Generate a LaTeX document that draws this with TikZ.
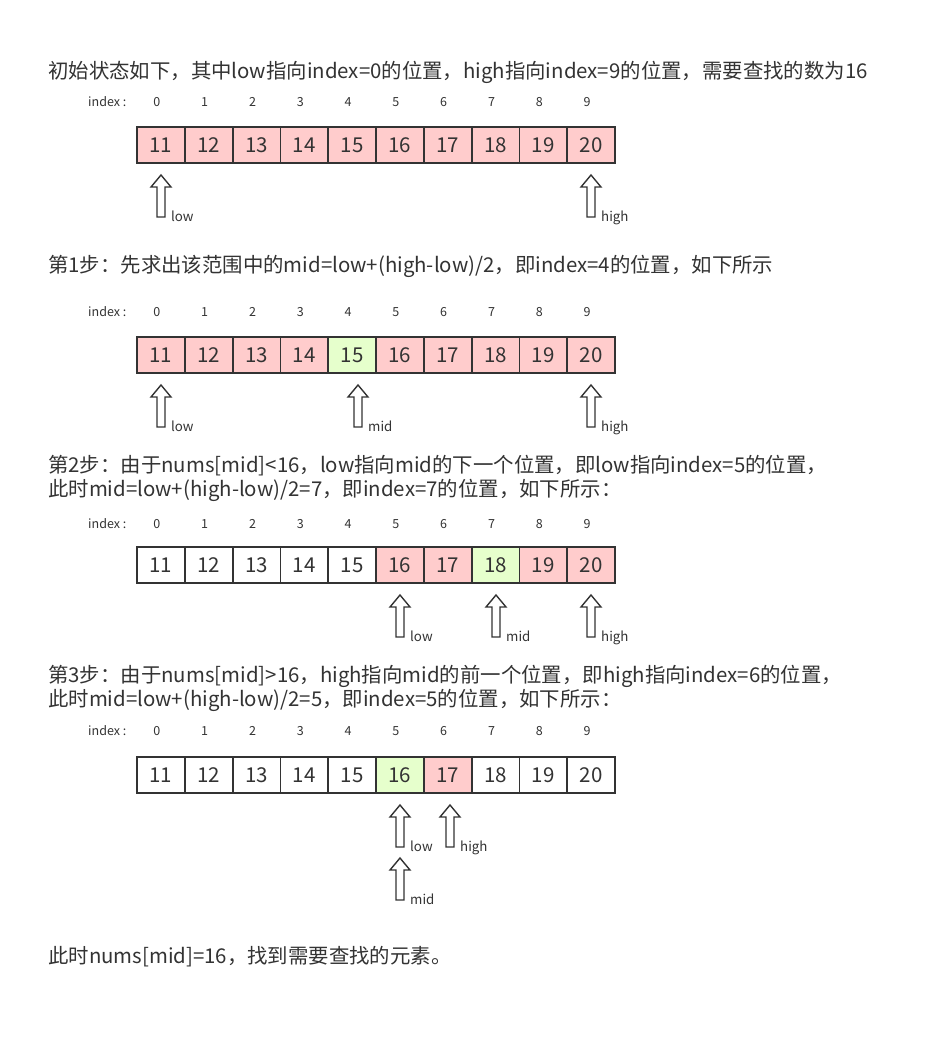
\documentclass[tikz,border=0pt]{standalone}
\usepackage{fontspec}
\setmainfont{Noto Sans CJK SC}
\definecolor{txt}{HTML}{333333}
\definecolor{pk}{HTML}{FFCCCC}
\definecolor{gr}{HTML}{E6FFCC}
\newcommand\ptrarrow[4]{%
  \draw[ptr] (#2,#3) -- (#2+10,#3+12) -- (#2+4,#3+12) -- (#2+4,#3+42) -- (#2-4,#3+42) -- (#2-4,#3+12) -- (#2-10,#3+12) -- cycle;
  \node[ptrlabel] (#1) at (#2+10,#3+46) {#4};}
\newcommand\drawarr[4]{%
  \node[idx,anchor=west] (#1idx) at (88,#3) {index :};
  \foreach \c [count=\i from 0] in {#4} {
    \node[cellbox,fill=\c] (#1c\i) at ({137+47.8*(\i+0.5)},#2) {\the\numexpr 11+\i\relax};
    \node[idx] (#1i\i) at ({137+47.8*(\i+0.5)-4},#3) {\i};
  }}
\begin{document}
\begin{tikzpicture}[x=1pt,y=-1pt,
  every node/.style={text=txt,inner sep=0pt},
  cellbox/.style={draw=txt,line width=1.8pt,minimum width=47.8pt,minimum height=36pt,font=\fontsize{20.5}{20.5}\selectfont},
  idx/.style={font=\fontsize{12.5}{12.5}\selectfont},
  para/.style={anchor=base west,font=\fontsize{20.4}{24}\selectfont},
  ptr/.style={draw=txt,line width=1.4pt,fill=white,line join=miter},
  ptrlabel/.style={anchor=base west,font=\fontsize{13.3}{13.3}\selectfont}]
\useasboundingbox[fill=white] (0,0) rectangle (951,1045);

\node[para] (t1) at (48,78) {初始状态如下，其中low指向index=0的位置，high指向index=9的位置，需要查找的数为16};
\drawarr{a}{145}{102}{pk,pk,pk,pk,pk,pk,pk,pk,pk,pk}
\ptrarrow{a1}{161}{175}{low}
\ptrarrow{a2}{591}{175}{high}

\node[para] (t2) at (48,272) {第1步：先求出该范围中的mid=low+(high-low)/2，即index=4的位置，如下所示};
\drawarr{b}{355}{312}{pk,pk,pk,pk,gr,pk,pk,pk,pk,pk}
\ptrarrow{b1}{161}{385}{low}
\ptrarrow{b2}{358}{385}{mid}
\ptrarrow{b3}{591}{385}{high}

\node[para] (t3) at (48,472) {第2步：由于nums[mid]<16，low指向mid的下一个位置，即low指向index=5的位置，};
\node[para] (t4) at (48,496) {此时mid=low+(high-low)/2=7，即index=7的位置，如下所示：};
\drawarr{c}{565}{524}{white,white,white,white,white,pk,pk,gr,pk,pk}
\ptrarrow{c1}{400}{595}{low}
\ptrarrow{c2}{496}{595}{mid}
\ptrarrow{c3}{591}{595}{high}

\node[para] (t5) at (48,682) {第3步：由于nums[mid]>16，high指向mid的前一个位置，即high指向index=6的位置，};
\node[para] (t6) at (48,706) {此时mid=low+(high-low)/2=5，即index=5的位置，如下所示：};
\drawarr{d}{775}{731}{white,white,white,white,white,gr,pk,white,white,white}
\ptrarrow{d1}{400}{805}{low}
\ptrarrow{d2}{450}{805}{high}
\ptrarrow{d3}{400}{858}{mid}

\node[para] (t7) at (48,963) {此时nums[mid]=16，找到需要查找的元素。};
\end{tikzpicture}
\end{document}
